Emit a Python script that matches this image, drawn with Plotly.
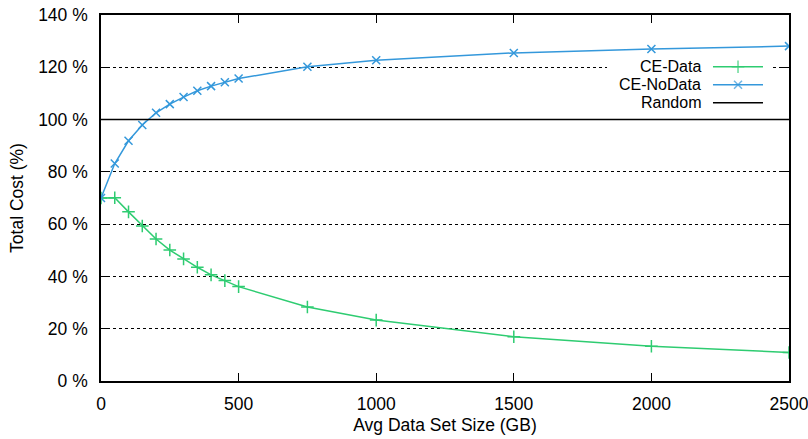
import plotly.graph_objects as go

# ---- data ----
sizes_gb = [0, 50, 100, 150, 200, 250, 300, 350, 400, 450, 500, 750, 1000, 1500, 2000, 2500]
ce_data = [70.0, 70.1, 64.7, 59.3, 54.3, 50.1, 46.7, 43.5, 40.6, 38.4, 36.1, 28.3, 23.3, 16.9, 13.3, 10.9]
ce_nodata = [70.0, 83.2, 91.9, 97.9, 102.6, 105.9, 108.6, 111.0, 112.8, 114.3, 115.7, 120.2, 122.7, 125.5, 127.0, 128.1]
random_x = [0, 2500]
random_y = [100, 100]
x_ticks = [0, 500, 1000, 1500, 2000, 2500]
y_ticks = [0, 20, 40, 60, 80, 100, 120, 140]
y_tick_labels = [f"{v} %" for v in y_ticks]
series_names = ["CE-Data", "CE-NoData", "Random"]

GREEN = "#2ECC71"
BLUE = "#3498DB"
FONT = "Liberation Sans, Arial, Helvetica, sans-serif"
FS = 17.5

fig = go.Figure()
fig.add_trace(go.Scatter(x=sizes_gb, y=ce_data, mode="lines+markers", name=series_names[0],
                         line=dict(color=GREEN, width=1.5),
                         marker=dict(symbol="cross-thin", size=9, line=dict(color=GREEN, width=1.5)),
                         showlegend=False))
fig.add_trace(go.Scatter(x=sizes_gb, y=ce_nodata, mode="lines+markers", name=series_names[1],
                         line=dict(color=BLUE, width=1.5),
                         marker=dict(symbol="x-thin", size=8, line=dict(color=BLUE, width=1.5)),
                         showlegend=False))
fig.add_trace(go.Scatter(x=random_x, y=random_y, mode="lines", name=series_names[2],
                         line=dict(color="black", width=1.5), showlegend=False))

# ---- gnuplot-style legend (text left of sample) on an overlay axis (0..1 of plot area) ----
# opaque legend box that hides the grid behind the key
box_x = [0.7355, 0.9767, 0.9767, 0.7355, 0.7355]
box_y = [0.735, 0.735, 0.8825, 0.8825, 0.735]
fig.add_trace(go.Scatter(x=box_x, y=box_y, xaxis="x2", yaxis="y2", mode="lines",
                         fill="toself", fillcolor="white", line=dict(width=0, color="white"),
                         showlegend=False, hoverinfo="skip"))

leg_x = [0.8895, 0.9259, 0.9622]
leg_rows = [0.8585, 0.8093, 0.7601]
leg_styles = [
    (GREEN, "cross-thin", 9),
    (BLUE, "x-thin", 8),
    ("black", "circle", 0),
]
for (col, sym, sz), yy, nm in zip(leg_styles, leg_rows, series_names):
    fig.add_trace(go.Scatter(x=leg_x, y=[yy] * 3, xaxis="x2", yaxis="y2",
                             mode="lines+markers", showlegend=False, hoverinfo="skip",
                             line=dict(color=col, width=1.5),
                             marker=dict(symbol=sym, size=[0, sz, 0], line=dict(color=col, width=1.5))))
    fig.add_annotation(text=nm, xref="paper", yref="paper", x=0.8736, y=yy,
                       xanchor="right", yanchor="middle", showarrow=False, borderpad=0,
                       font=dict(family=FONT, size=16, color="black"))

axis_common = dict(showline=True, linecolor="black", linewidth=1.5, mirror="ticks",
                   ticks="inside", ticklen=8, tickwidth=1.2, tickcolor="black",
                   zeroline=False, automargin=False, ticklabeloverflow="allow",
                   tickfont=dict(family=FONT, size=FS, color="black"))

fig.update_layout(
    width=808, height=439,
    margin=dict(l=101, r=19, t=15, b=58),
    paper_bgcolor="white", plot_bgcolor="white",
    font=dict(family=FONT, size=FS, color="black"),
    xaxis=dict(range=[0, 2500], tickvals=x_ticks, showgrid=False,
               title=dict(text="Avg Data Set Size (GB)", font=dict(family=FONT, size=FS), standoff=6),
               ticklabelstandoff=6, **axis_common),
    yaxis=dict(range=[0, 140], tickvals=y_ticks, ticktext=y_tick_labels,
               showgrid=True, gridcolor="black", griddash="dot", gridwidth=1,
               title=dict(text="Total Cost (%)", font=dict(family=FONT, size=FS), standoff=10),
               ticklabelstandoff=8, **axis_common),
    xaxis2=dict(overlaying="x", range=[0, 1], visible=False, fixedrange=True),
    yaxis2=dict(overlaying="y", range=[0, 1], visible=False, fixedrange=True),
)

fig.write_html("out.html")
